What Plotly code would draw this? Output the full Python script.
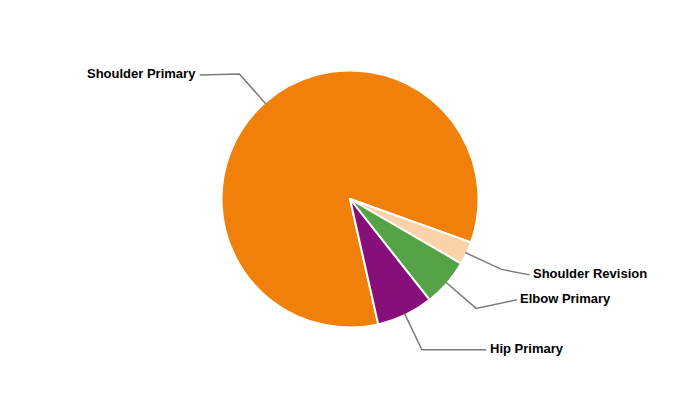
import math
import plotly.graph_objects as go

# ---- data ----
labels = ["Shoulder Primary", "Shoulder Revision", "Elbow Primary", "Hip Primary"]
values = [84.0, 2.9, 6.0, 7.1]
colors = ["#F0800A", "#FCD2AA", "#55A346", "#870F7A"]

# ---- layout settings ----
W, H = 700, 400
cx, cy, r = 350.0, 199.0, 127.0
pie_r = 128.5             # drawn radius (white outline eats ~1px)
rotation = 167.3          # start angle of first slice, clockwise from 12 o'clock
break_dist = 40.0         # radial length of first connector segment
label_R = 195.0           # labels sit on this circle
label_nudge = [(0, 1), (0, 5.5), (0, -8.6), (12.6, 0)]  # small label placement tweaks
gap = 1.5

def px2paper(x, y):
    return x / W, 1 - y / H

fig = go.Figure()
fig.add_trace(go.Pie(
    labels=labels, values=values, sort=False, direction="clockwise",
    rotation=rotation, textinfo="none", hoverinfo="label+percent",
    marker=dict(colors=colors, line=dict(color="white", width=2)),
    domain=dict(x=[(cx - pie_r) / W, (cx + pie_r) / W],
                y=[1 - (cy + pie_r) / H, 1 - (cy - pie_r) / H]),
    showlegend=False,
))

total = sum(values)
cum = 0.0
shapes, annotations = [], []
for lab, v, (ndx, ndy) in zip(labels, values, label_nudge):
    theta = math.radians(rotation + 360.0 * (cum + v / 2) / total)
    cum += v
    sx, sy = math.sin(theta), -math.cos(theta)
    ex, ey = cx + r * sx, cy + r * sy
    bx, by = cx + (r + break_dist) * sx, cy + (r + break_dist) * sy
    right = sx >= 0
    ay = by + ndy
    dx = math.sqrt(max(label_R ** 2 - (ay - cy) ** 2, 0))
    ax = cx + (dx if right else -dx) + ndx
    pts = [px2paper(ex, ey), px2paper(bx, by), px2paper(ax, ay)]
    path = "M {} {} L {} {} L {} {}".format(*[c for p in pts for c in p])
    shapes.append(dict(type="path", xref="paper", yref="paper", path=path,
                       line=dict(color="#7a7a7a", width=1.5)))
    tx, ty = px2paper(ax + (gap if right else -gap), ay - 1.5)
    annotations.append(dict(
        x=tx, y=ty, xref="paper", yref="paper", text="<b>" + lab + "</b>",
        showarrow=False, xanchor="left" if right else "right", yanchor="middle",
        font=dict(family="Liberation Sans, Arial, sans-serif", size=13, color="#000000"),
    ))

fig.update_layout(
    width=W, height=H, margin=dict(l=0, r=0, t=0, b=0),
    paper_bgcolor="white", plot_bgcolor="white",
    shapes=shapes, annotations=annotations,
)
fig.write_html("out.html", config={"displayModeBar": False},
               post_script="document.body.style.margin='0';")
